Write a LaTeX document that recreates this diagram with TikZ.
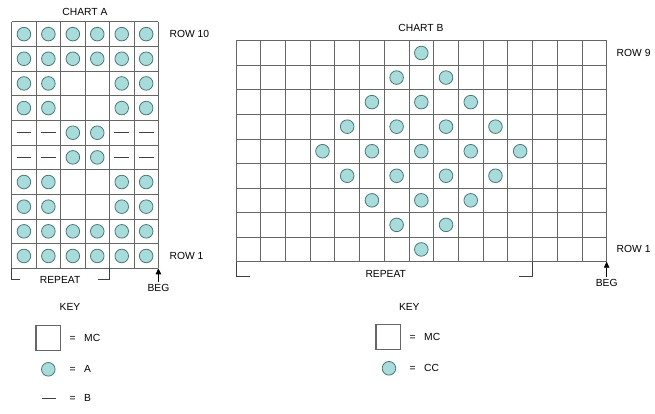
\documentclass[tikz,border=0pt]{standalone}
\usepackage{fontspec}
\setmainfont{Liberation Sans}
\usetikzlibrary{arrows.meta}
\definecolor{ccfill}{HTML}{A8DCDB}
\definecolor{ccedge}{HTML}{4D7776}

\begin{document}
\begin{tikzpicture}[
  x=1pt, y=-1pt,
  gline/.style={draw=black!60, line width=0.75pt},
  dot/.style={circle, draw=ccedge, fill=ccfill, line width=0.8pt, minimum size=13.6pt, inner sep=0pt},
  bar/.style={draw=black!75, line width=0.75pt},
  txt/.style={font=\fontsize{10.3}{12}\selectfont, inner sep=0pt},
  keybox/.style={draw=black!60, line width=1.2pt, minimum size=24.6pt, inner sep=0pt},
  begarrow/.style={-{Triangle[length=6pt, width=5.5pt]}, line width=0.8pt, shorten <=2pt},
]
\useasboundingbox (0,0) rectangle (655,414);

% Chart A
\node[txt] (titleA) at (85,12) {CHART A};
\begin{scope}[shift={(11.7,268.3)}, x=24.45pt, y=24.65pt]
  \foreach \c in {0,...,6} {
    \draw[gline] (\c,0) -- (\c,10);
  }
  \foreach \r in {0,...,10} {
    \draw[gline] (0,\r) -- (6,\r);
  }
  % filas completas
  \foreach \r in {1,2,9,10} {
    \foreach \c in {1,...,6} {
      \node[dot] (a-\c-\r) at (\c-0.5,\r-0.5) {};
    }
  }
  % columnas laterales
  \foreach \r in {3,4,7,8} {
    \foreach \c in {1,2,5,6} {
      \node[dot] (a-\c-\r) at (\c-0.5,\r-0.5) {};
    }
  }
  % centro con rayas
  \foreach \r in {5,6} {
    \foreach \c in {3,4} {
      \node[dot] (a-\c-\r) at (\c-0.5,\r-0.5) {};
    }
    \foreach \c in {1,2,5,6} {
      \draw[bar] (\c-0.8,\r-0.5) -- (\c-0.2,\r-0.5);
    }
  }
  \node[txt, anchor=west] (rowtenA) at (6.45,9.5) {ROW 10};
  \node[txt, anchor=west] (rowoneA) at (6.45,0.5) {ROW 1};
  % repeticion
  \draw[bar] (0,0) -- (0,-0.43) -- (0.34,-0.43);
  \draw[bar] (4,0) -- (4,-0.43) -- (3.53,-0.43);
  \node[txt] (repeatA) at (1.98,-0.47) {REPEAT};
  \coordinate (tipA) at (6,0);
  \node[txt] (begA) at (6,-0.8) {BEG};
  \draw[begarrow] (begA.north) -- (tipA);
\end{scope}

% Chart B
\node[txt] (titleB) at (421,28) {CHART B};
\begin{scope}[shift={(236,261.7)}, x=24.71pt, y=24.55pt]
  \foreach \c in {0,...,15} {
    \draw[gline] (\c,0) -- (\c,9);
  }
  \foreach \r in {0,...,9} {
    \draw[gline] (0,\r) -- (15,\r);
  }
  % rombo
  \foreach \c/\r in {8/1, 7/2, 9/2, 6/3, 8/3, 10/3, 5/4, 7/4, 9/4, 11/4,
                     4/5, 6/5, 8/5, 10/5, 12/5, 5/6, 7/6, 9/6, 11/6,
                     6/7, 8/7, 10/7, 7/8, 9/8, 8/9} {
    \node[dot] (b-\c-\r) at (\c-0.5,\r-0.5) {};
  }
  \node[txt, anchor=west] (rownineB) at (15.4,8.5) {ROW 9};
  \node[txt, anchor=west] (rowoneB) at (15.4,0.5) {ROW 1};
  % repeticion
  \draw[bar] (0,0) -- (0,-0.6) -- (0.57,-0.6);
  \draw[bar] (12,0) -- (12,-0.6) -- (11.47,-0.6);
  \node[txt] (repeatB) at (6.06,-0.5) {REPEAT};
  \coordinate (tipB) at (15,0);
  \node[txt] (begB) at (15,-0.87) {BEG};
  \draw[begarrow] (begB.north) -- (tipB);
\end{scope}

% Leyenda A
\node[txt] (keyA) at (70,306.7) {KEY};
\node[keybox] (mcA) at (48.3,337.8) {};
\node[txt, anchor=west] (mcAtxt) at (69.5,337.8) {=\hspace{8.5pt}MC};
\node[dot] (ccA) at (48.3,369.3) {};
\node[txt, anchor=west] (ccAtxt) at (69.5,369.3) {=\hspace{8.5pt}A};
\coordinate (barAl) at (41.7,398.3);
\coordinate (barAr) at (55.7,398.3);
\draw[bar] (barAl) -- (barAr);
\node[txt, anchor=west] (barAtxt) at (69.5,398.3) {=\hspace{8.5pt}B};

% Leyenda B
\node[txt] (keyB) at (409.3,306.7) {KEY};
\node[keybox] (mcB) at (388.2,336.8) {};
\node[txt, anchor=west] (mcBtxt) at (409.5,336.8) {=\hspace{8.5pt}MC};
\node[dot] (ccB) at (389,368.3) {};
\node[txt, anchor=west] (ccBtxt) at (409.5,368.3) {=\hspace{8.5pt}CC};

\end{tikzpicture}
\end{document}
